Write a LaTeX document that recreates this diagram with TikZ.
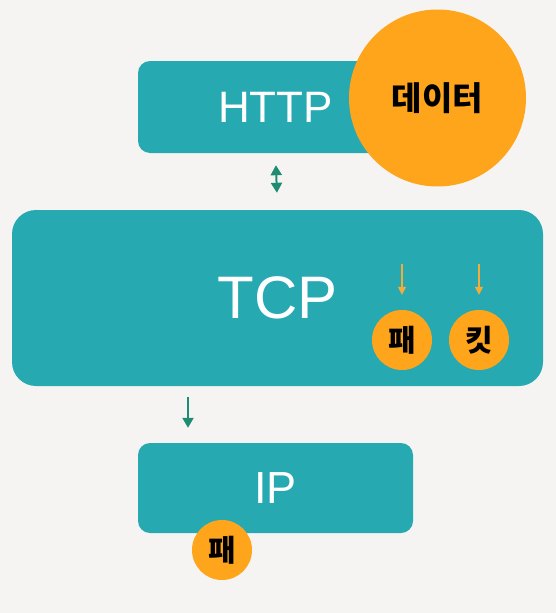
\documentclass[tikz,border=0pt]{standalone}
\usepackage{fontspec}
\setmainfont{Liberation Sans}
\newfontfamily\krfont{Noto Sans CJK KR}
\usetikzlibrary{arrows.meta,positioning}

\definecolor{boxteal}{RGB}{39,169,178}
\definecolor{dotorange}{RGB}{255,165,28}
\definecolor{arrgreen}{RGB}{30,140,115}
\definecolor{arrorange}{RGB}{242,172,60}
\definecolor{paper}{RGB}{245,244,242}

\tikzset{
  layer/.style={fill=boxteal, text=white, rounded corners=12pt, inner sep=0pt},
  dot/.style={circle, fill=dotorange, inner sep=0pt, font=\krfont\bfseries},
  garr/.style={draw=arrgreen, line width=2pt, -{Triangle[length=10pt,width=11pt]}},
  oarr/.style={draw=arrorange, line width=1.4pt, -{Triangle[length=8pt,width=8pt]}}
}

\begin{document}
\begin{tikzpicture}[x=1pt, y=-1pt]
        \fill[paper] (0,0) rectangle (556,613);
        \useasboundingbox (0,0) rectangle (556,613);

        \node[layer, minimum width=275pt, minimum height=92pt, font=\fontsize{44}{46}\selectfont] at (275.5,107) (http) {HTTP};
        \node[layer, rounded corners=24pt, minimum width=531pt, minimum height=176pt, font=\fontsize{60}{62}\selectfont] at (277.5,298) (tcp) {TCP};
        \node[layer, minimum width=275pt, minimum height=90pt, font=\fontsize{45}{47}\selectfont] at (275.5,488) (ip) {IP};

        \node[dot, minimum size=177pt, font=\krfont\bfseries\fontsize{33}{35}\selectfont] at (437.5,98) (data) {데이터};
        \node[dot, minimum size=60pt, font=\krfont\bfseries\fontsize{30}{32}\selectfont] at (402,340) (pae) {패};
        \node[dot, minimum size=60pt, font=\krfont\bfseries\fontsize{30}{32}\selectfont] at (479,340) (kit) {킷};
        \node[dot, minimum size=60pt, font=\krfont\bfseries\fontsize{30}{32}\selectfont] at (222,550) (ippae) {패};

        \coordinate (drop) at (188,0);

        \draw[garr, {Triangle[length=10pt,width=11pt]}-{Triangle[length=10pt,width=11pt]}, shorten <=12pt, shorten >=17pt] (http.south) -- (tcp.north);
        \draw[garr, shorten <=11pt, shorten >=15pt] (tcp.south -| drop) -- (ip.north -| drop);
        \draw[oarr] ([yshift=46pt]pae.north) -- ([yshift=15pt]pae.north);
        \draw[oarr] ([yshift=46pt]kit.north) -- ([yshift=15pt]kit.north);
    \end{tikzpicture}
\end{document}
